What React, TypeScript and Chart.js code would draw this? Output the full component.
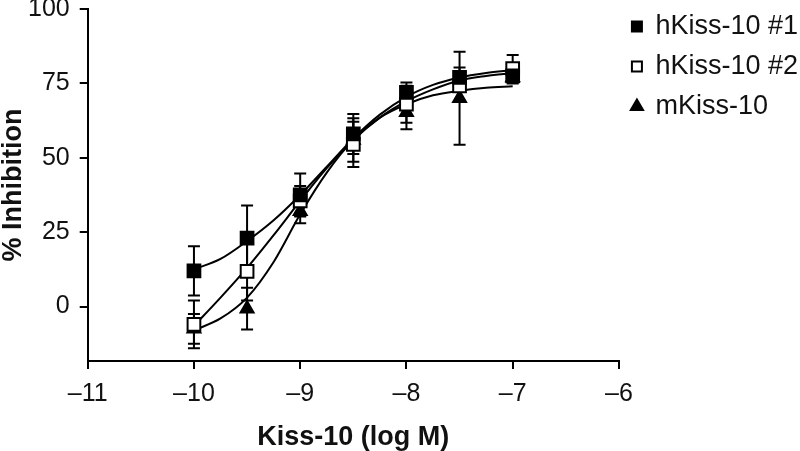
import React, { useEffect, useRef } from "react";
import { Chart, registerables } from "chart.js";

Chart.register(...registerables);

const doses = [-10, -9.5, -9, -8.5, -8, -7.5, -7];
const h1Values = [12, 23, 37.5, 58, 72, 77, 77.5];
const h1Errors = [8.3, 11, 7.2, 6.7, 3.3, 3.3, 2];
const h2Values = [-6, 11.8, 35.5, 54.5, 68, 74.2, 80];
const h2Errors = [8, 9.8, 5, 7.6, 6.2, 2, 4.5];
const mValues = [-7.5, -0.7, 32, 56, 65.3, 70, 77];
const mErrors = [5, 7, 4, 7.3, 5.7, 15.6, 2];

const curveX = [-10, -9.75, -9.5, -9.25, -9, -8.75, -8.5, -8.25, -8, -7.75, -7.5, -7.25, -7];
const h1Curve = [12.5, 16, 22, 29, 37.5, 47, 56.5, 64.5, 70.5, 74.5, 77, 78.5, 79.5];
const h2Curve = [-6.5, 3, 13, 24, 35.5, 46.5, 56, 63.5, 69, 73, 76, 77.5, 78.5];
const mCurve = [-8, -4, 3, 15, 31, 45, 56, 63.5, 68, 71, 72.5, 73.5, 74];

const seriesLabels = ["hKiss-10 #1", "hKiss-10 #2", "mKiss-10"];
const yTickValues = [0, 25, 50, 75, 100];
const xTitle = "Kiss-10 (log M)";
const yTitle = "% Inhibition";

const FONT = "'Liberation Sans', Arial, Helvetica, sans-serif";

const pts = (xs: number[], ys: number[]) => xs.map((x, i) => ({ x, y: ys[i] }));

const errorBarPlugin = {
  id: "errorBars",
  beforeDatasetsDraw(chart: any) {
    const ctx = chart.ctx;
    const xs = chart.scales.x;
    const ys = chart.scales.y;
    const sets = [
      [h1Values, h1Errors],
      [h2Values, h2Errors],
      [mValues, mErrors],
    ];
    ctx.save();
    ctx.strokeStyle = "#000";
    ctx.lineWidth = 2;
    const cap = 6;
    sets.forEach(([vals, errs]) => {
      vals.forEach((v, i) => {
        const px = xs.getPixelForValue(doses[i]);
        const top = ys.getPixelForValue(v + errs[i]);
        const bot = ys.getPixelForValue(v - errs[i]);
        ctx.beginPath();
        ctx.moveTo(px, top);
        ctx.lineTo(px, bot);
        ctx.moveTo(px - cap, top);
        ctx.lineTo(px + cap, top);
        ctx.moveTo(px - cap, bot);
        ctx.lineTo(px + cap, bot);
        ctx.stroke();
      });
    });
    ctx.restore();
  },
};

export default function App() {
  const ref = useRef<HTMLCanvasElement | null>(null);

  useEffect(() => {
    if (!ref.current) return;
    const markerBase = {
      showLine: false,
      pointRadius: 9,
      pointHoverRadius: 9,
      pointBorderColor: "#000",
      pointBorderWidth: 2,
      borderColor: "#000",
    };
    const curveBase = {
      pointRadius: 0,
      borderColor: "#000",
      borderWidth: 2,
      cubicInterpolationMode: "monotone" as const,
      fill: false,
      order: 3,
    };
    const chart = new Chart(ref.current, {
      type: "line",
      data: {
        datasets: [
          {
            ...markerBase,
            label: seriesLabels[0],
            data: pts(doses, h1Values),
            pointStyle: "rect",
            pointBackgroundColor: "#000",
            backgroundColor: "#000",
            order: 0,
          },
          {
            ...markerBase,
            label: seriesLabels[1],
            data: pts(doses, h2Values),
            pointStyle: "rect",
            pointBackgroundColor: "#fff",
            backgroundColor: "#fff",
            order: 1,
          },
          {
            ...markerBase,
            label: seriesLabels[2],
            data: pts(doses, mValues),
            pointStyle: "triangle",
            pointRadius: 7.5,
            pointBackgroundColor: "#000",
            backgroundColor: "#000",
            order: 2,
          },
          { ...curveBase, label: "fit1", data: pts(curveX, h1Curve) },
          { ...curveBase, label: "fit2", data: pts(curveX, h2Curve) },
          { ...curveBase, label: "fit3", data: pts(curveX, mCurve) },
        ],
      },
      options: {
        responsive: false,
        animation: false,
        layout: { autoPadding: false, padding: { top: 0, left: 0, bottom: 0, right: -8 } },
        plugins: {
          tooltip: { enabled: false },
          legend: {
            position: "right",
            align: "start",
            labels: {
              usePointStyle: true,
              boxWidth: 10,
              boxHeight: 10,
              padding: 13,
              color: "#111",
              font: { family: FONT, size: 27 },
              filter: (item: any) => item.datasetIndex < 3,
              sort: (a: any, b: any) => a.datasetIndex - b.datasetIndex,
            },
          },
        },
        scales: {
          x: {
            type: "linear",
            min: -11,
            max: -6,
            ticks: {
              stepSize: 1,
              padding: 10,
              color: "#111",
              font: { family: FONT, size: 25 },
              callback: (v: any) => (v < 0 ? "\u2013" + Math.abs(v) : String(v)),
            },
            grid: {
              display: true,
              drawOnChartArea: false,
              drawTicks: true,
              tickLength: 8,
              lineWidth: 2,
              tickWidth: 2,
              color: "#000",
              tickColor: "#000",
            },
            border: { display: true, color: "#000", width: 2 },
            title: {
              display: true,
              text: xTitle,
              color: "#111",
              font: { family: FONT, size: 27, weight: "bold", lineHeight: 1 },
              padding: { top: 5, bottom: 0 },
            },
          },
          y: {
            type: "linear",
            min: -18.3,
            max: 100,
            afterBuildTicks: (scale: any) => {
              scale.ticks = yTickValues.map((v) => ({ value: v }));
            },
            afterFit: (scale: any) => {
              scale.paddingTop = 9;
              scale.paddingBottom = 0;
            },
            ticks: {
              padding: 10,
              color: "#111",
              font: { family: FONT, size: 25 },
            },
            grid: {
              display: true,
              drawOnChartArea: false,
              drawTicks: true,
              tickLength: 8,
              lineWidth: 2,
              tickWidth: 2,
              color: "#000",
              tickColor: "#000",
            },
            border: { display: true, color: "#000", width: 2 },
            title: {
              display: true,
              text: yTitle,
              color: "#111",
              font: { family: FONT, size: 27, weight: "bold", lineHeight: 1 },
              padding: { top: 0, bottom: -9 },
            },
          },
        },
      },
      plugins: [errorBarPlugin],
    });
    return () => chart.destroy();
  }, []);

  return (
    <div style={{ position: "fixed", left: 0, top: 0, width: 800, height: 451, background: "#fff" }}>
      <canvas ref={ref} width={800} height={451} />
    </div>
  );
}
